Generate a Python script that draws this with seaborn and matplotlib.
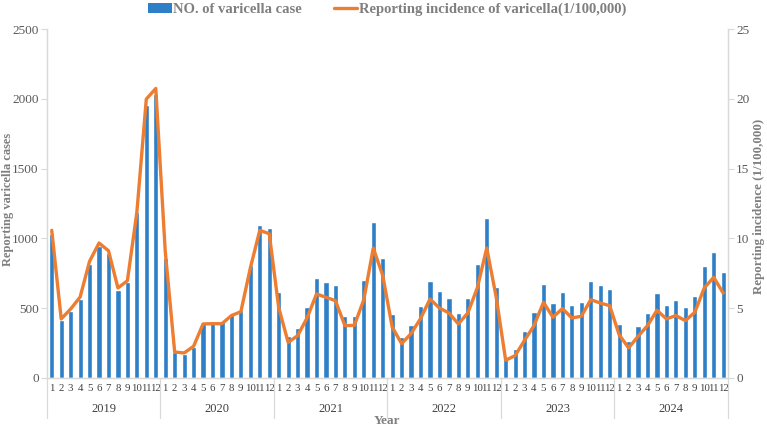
import matplotlib
matplotlib.use("Agg")
import matplotlib.pyplot as plt
import matplotlib.transforms as mtransforms
from matplotlib.patches import Patch
from matplotlib.lines import Line2D
import numpy as np
import pandas as pd
import seaborn as sns

# monthly values, Jan 2019 .. Dec 2024
years = ["2019", "2020", "2021", "2022", "2023", "2024"]
month_labels = [str(m) for m in range(1, 13)]

cases = [1034, 413, 478, 566, 819, 948, 895, 633, 685, 1189, 1958, 2037,
         862, 186, 172, 222, 394, 401, 406, 461, 490, 812, 1096, 1077,
         618, 303, 358, 509, 719, 688, 664, 444, 447, 702, 1115, 862,
         461, 294, 382, 513, 695, 626, 576, 468, 573, 817, 1149, 652,
         150, 208, 339, 475, 676, 535, 618, 525, 544, 697, 666, 640,
         389, 267, 375, 468, 611, 525, 561, 511, 590, 805, 903, 762]

incidence = [10.58, 4.23, 4.94, 5.80, 8.36, 9.67, 9.12, 6.45, 6.97, 11.87, 19.99, 20.75,
             9.1, 1.86, 1.79, 2.27, 3.87, 3.89, 3.89, 4.47, 4.75, 7.88, 10.58, 10.34,
             5.05, 2.55, 3.03, 4.30, 6.02, 5.78, 5.54, 3.75, 3.77, 5.61, 9.31, 7.35,
             3.65, 2.46, 3.18, 4.25, 5.66, 5.01, 4.66, 3.87, 4.66, 6.45, 9.31, 5.8,
             1.27, 1.60, 2.70, 3.75, 5.42, 4.35, 4.97, 4.30, 4.42, 5.61, 5.37, 5.18,
             3.10, 2.15, 2.98, 3.75, 4.85, 4.23, 4.47, 4.11, 4.70, 6.45, 7.21, 6.09]

df = pd.DataFrame({
    "idx": np.arange(len(cases)),
    "month": month_labels * len(years),
    "cases": cases,
    "incidence": incidence,
})

sns.set_style("white")
plt.rcParams["font.family"] = ["Liberation Serif", "DejaVu Serif"]

bar_color = "#2E7FC6"
line_color = "#ED7D31"
grey = "#7F7F7F"
tick_grey = "#595959"
spine_grey = "#D9D9D9"

fig = plt.figure(figsize=(7.67, 4.29), dpi=100)
ax = fig.add_axes([0.0613, 0.119, 0.8877, 0.813])

sns.barplot(data=df, x="idx", y="cases", color=bar_color, width=0.55,
            saturation=1, ax=ax)
ax2 = ax.twinx()
sns.lineplot(data=df, x="idx", y="incidence", color=line_color, lw=2.4,
             ax=ax2)

n = len(cases)
ax.set_xlim(-0.5, n - 0.5)
ax.set_ylim(0, 2500)
ax2.set_ylim(0, 25)
ax.set_yticks(range(0, 2501, 500))
ax2.set_yticks(range(0, 26, 5))

ax.set_xticks(range(n))
ax.set_xticklabels(df["month"], fontsize=7.8, color="#404040")
ax.tick_params(axis="x", length=0, pad=4)
ax.set_xticks(np.arange(-0.5, n, 1), minor=True)
ax.tick_params(axis="x", which="minor", length=13, color=spine_grey, width=0.8)

ax.tick_params(axis="y", labelsize=9.5, colors=tick_grey, length=4, color=spine_grey,
               pad=2)
ax2.tick_params(axis="y", labelsize=9.5, colors=tick_grey, length=4, color=spine_grey,
                pad=2)

ax.set_xlabel("")
ax.set_ylabel("")
ax2.set_ylabel("")
fig.text(0.010, 0.535, "Reporting varicella cases", rotation=90, ha="center",
         va="center", fontsize=9, fontweight="bold", color=grey)
fig.text(0.990, 0.52, "Reporting incidence (1/100,000)", rotation=90, ha="center",
         va="center", fontsize=9.3, fontweight="bold", color=grey)

for a in (ax, ax2):
    for s in a.spines.values():
        s.set_color(spine_grey)
        s.set_linewidth(0.9)
    a.spines["top"].set_visible(False)

# year level of the category axis
trans = mtransforms.blended_transform_factory(ax.transData, ax.transAxes)
for k, yr in enumerate(years):
    ax.text(k * 12 + 5.5, -0.088, yr, transform=trans, ha="center", va="center",
            fontsize=9, color="#404040")
for k in range(len(years) + 1):
    xb = k * 12 - 0.5
    ax.plot([xb, xb], [0, -0.115], transform=trans, color=spine_grey, lw=0.9,
            clip_on=False)

fig.text(0.505, 0.004, "Year", ha="center", va="bottom", fontsize=9.5,
         fontweight="bold", color=grey)

handles = [Patch(facecolor=bar_color, edgecolor="none"),
           Line2D([0], [0], color=line_color, lw=2.4)]
fig.legend(handles, ["NO. of varicella case",
                     "Reporting incidence of varicella(1/100,000)"],
           loc="upper center", bbox_to_anchor=(0.505, 1.025), ncol=2, frameon=False,
           prop={"weight": "bold", "size": 10.5}, labelcolor=grey,
           handlelength=1.6, handleheight=0.7, handletextpad=0.1, columnspacing=2.2)

fig.savefig("out.png", dpi=100)
